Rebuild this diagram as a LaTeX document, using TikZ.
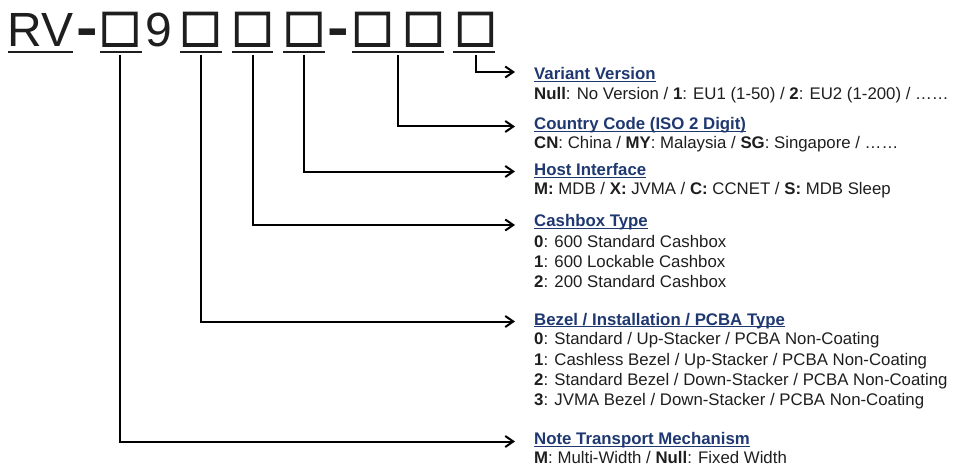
\documentclass[tikz,border=0pt]{standalone}
\usepackage{fontspec}
\setmainfont{Liberation Sans}
\newfontfamily\symfont{DejaVu Sans}[FakeBold=3]
\usetikzlibrary{arrows.meta,calc}
\definecolor{navy}{RGB}{31,56,112}
\definecolor{ink}{RGB}{30,30,30}
\newcommand\headul[1]{\setbox0\hbox{#1}\rlap{\rule[-2.4pt]{\wd0}{1.3pt}}\box0}
\newcommand\sqglyph{\resizebox*{!}{34pt}{\symfont\bfseries □}}
\newcommand\bigdash{\textbf{\scalebox{1.35}[1.15]{-}}}
\begin{document}
\begin{tikzpicture}[x=1pt,y=-1pt,
  title/.style={inner sep=0pt, font=\fontsize{48}{48}\selectfont, text=ink, anchor=base},
  sq/.style={inner sep=0pt, anchor=center, text=ink},
  head/.style={inner sep=0pt, anchor=base west, text=navy, font=\fontsize{16.8}{20}\selectfont\bfseries},
  desc/.style={inner sep=0pt, anchor=base west, text=ink, font=\fontsize{16.8}{20}\selectfont},
  conn/.style={line width=2pt, draw=black, -{Straight Barb[length=8pt,width=11pt]}},
  ulline/.style={line width=2pt, draw=ink}]
\path[use as bounding box] (0,0) rectangle (953,468);
% title
\node[title] (rv) at (40.5,47) {RV};
\node[title] (dash1) at (87,47) {\bigdash};
\node[sq] (b1) at (120,29.3) {\sqglyph};
\node[title] (nine) at (159,47) {9};
\node[sq] (b2) at (200.5,29.3) {\sqglyph};
\node[sq] (b3) at (252.5,29.3) {\sqglyph};
\node[sq] (b4) at (304,29.3) {\sqglyph};
\node[title] (dash2) at (338,47) {\bigdash};
\node[sq] (b5) at (372.5,29.3) {\sqglyph};
\node[sq] (b6) at (423.5,29.3) {\sqglyph};
\node[sq] (b7) at (475.5,29.3) {\sqglyph};
% underlines
\draw[ulline] (8,52.5) -- (73,52.5);
\draw[ulline] (100,52.5) -- (141.5,52.5);
\draw[ulline] (180,52.5) -- (221.5,52.5);
\draw[ulline] (231.5,52.5) -- (273,52.5);
\draw[ulline] (283,52.5) -- (324.5,52.5);
\draw[ulline] (351.7,52.5) -- (444,52.5);
\draw[ulline] (453,52.5) -- (495,52.5);
% arrow tips
\coordinate (t1) at (515,72);
\coordinate (t2) at (515,126.5);
\coordinate (t3) at (515,171.5);
\coordinate (t4) at (515,225);
\coordinate (t5) at (515,321.5);
\coordinate (t6) at (515,441.5);
\coordinate (s56) at ($(b5.south)!0.5!(b6.south)$);
% connectors
\draw[conn] (b7.south |- 0,55) |- (t1);
\draw[conn] (s56 |- 0,55) |- (t2);
\draw[conn] (b4.south |- 0,55) |- (t3);
\draw[conn] (b3.south |- 0,55) |- (t4);
\draw[conn] (b2.south |- 0,55) |- (t5);
\draw[conn] (b1.south |- 0,55) |- (t6);
% texts
\node[head] (h1) at (534,80) {\headul{Variant Version}};
\node[desc] (d1) at (534,99.5) {\textbf{Null}: No Version / \textbf{1}: EU1 (1-50) / \textbf{2}: EU2 (1-200) / ……};
\node[head] (h2) at (534,130) {\headul{Country Code (ISO 2 Digit)}};
\node[desc] (d2) at (534,149) {\textbf{CN}: China / \textbf{MY}: Malaysia / \textbf{SG}: Singapore / ……};
\node[head] (h3) at (534,175.5) {\headul{Host Interface}};
\node[desc] (d3) at (534,194.5) {\textbf{M:} MDB / \textbf{X:} JVMA / \textbf{C:} CCNET / \textbf{S:} MDB Sleep};
\node[head] (h4) at (534,226.5) {\headul{Cashbox Type}};
\node[desc] (d4a) at (534,247) {\textbf{0}: 600 Standard Cashbox};
\node[desc] (d4b) at (534,267.5) {\textbf{1}: 600 Lockable Cashbox};
\node[desc] (d4c) at (534,287.5) {\textbf{2}: 200 Standard Cashbox};
\node[head] (h5) at (534,325) {\headul{Bezel / Installation / PCBA Type}};
\node[desc] (d5a) at (534,344.5) {\textbf{0}: Standard / Up-Stacker / PCBA Non-Coating};
\node[desc] (d5b) at (534,365) {\textbf{1}: Cashless Bezel / Up-Stacker / PCBA Non-Coating};
\node[desc] (d5c) at (534,385) {\textbf{2}: Standard Bezel / Down-Stacker / PCBA Non-Coating};
\node[desc] (d5d) at (534,405.5) {\textbf{3}: JVMA Bezel / Down-Stacker / PCBA Non-Coating};
\node[head] (h6) at (534,444.5) {\headul{Note Transport Mechanism}};
\node[desc] (d6) at (534,463.5) {\textbf{M}: Multi-Width / \textbf{Null}: Fixed Width};
\end{tikzpicture}
\end{document}
